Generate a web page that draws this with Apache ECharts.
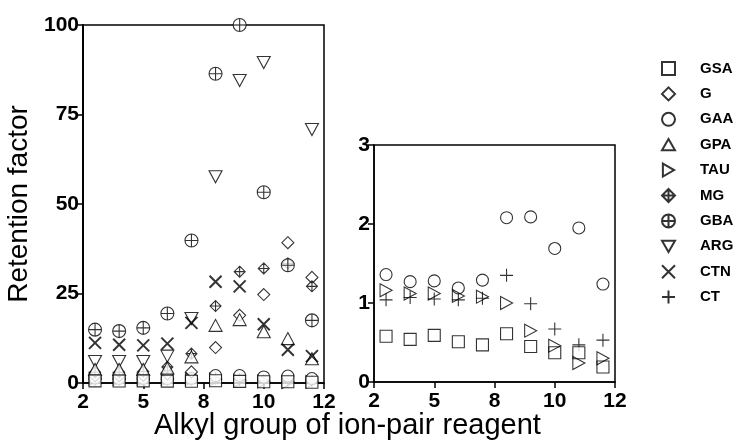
<!DOCTYPE html>
<html>
<head>
<meta charset="utf-8">
<script src="https://cdn.jsdelivr.net/npm/echarts@6/dist/echarts.min.js"></script>
<style>
  html, body { margin: 0; padding: 0; background: #fff; }
  #main { width: 744px; height: 444px; }
</style>
</head>
<body>
<div id="main"></div>
<script>
// x positions of the ten points on the (non-linear) alkyl axis, and its tick labels
var alkylPos = [0.5, 1.5, 2.5, 3.5, 4.5, 5.5, 6.5, 7.5, 8.5, 9.5];
var xTickPos = [0, 2.5, 5, 7.5, 10];
var xTickLabels = ['2', '5', '8', '10', '12'];

// retention factors
var GSA = [0.58, 0.54, 0.59, 0.51, 0.47, 0.61, 0.45, 0.37, 0.37, 0.19];
var G   = [2.0, 2.0, 2.2, 2.5, 3.1, 9.9, 18.9, 24.7, 39.2, 29.5];
var GAA = [1.36, 1.27, 1.28, 1.19, 1.29, 2.08, 2.09, 1.69, 1.95, 1.24];
var GPA = [3.8, 3.8, 3.8, 4.2, 7.3, 16.1, 17.7, 14.3, 12.4, 6.8];
var TAU = [1.16, 1.12, 1.12, 1.09, 1.08, 1.0, 0.65, 0.46, 0.24, 0.30];
var MG  = [3.0, 3.0, 3.2, 4.5, 8.2, 21.5, 31.1, 32.0, 33.4, 27.0];
var GBA = [14.9, 14.5, 15.4, 19.4, 39.8, 86.4, 100, 53.3, 32.9, 17.5];
var ARG = [6.0, 6.0, 6.0, 7.5, 18.0, 57.6, 84.5, 89.5, null, 70.8];
var CTN = [11.2, 10.7, 10.5, 11.0, 16.8, 28.3, 27.0, 16.4, 9.3, 7.5];
var CT  = [1.04, 1.07, 1.05, 1.04, 1.06, 1.35, 0.99, 0.67, 0.47, 0.53];

var legendNames = ['GSA', 'G', 'GAA', 'GPA', 'TAU', 'MG', 'GBA', 'ARG', 'CTN', 'CT'];

var FONT = 'Liberation Sans, Arial, sans-serif';

// marker shapes
var sym = {
    GSA: { s: 'rect', size: 12 },
    G:   { s: 'path://M10,0 L20,10 L10,20 L0,10 Z', size: 12 },
    GAA: { s: 'circle', size: 12 },
    GPA: { s: 'path://M10,0 L20,17.3 L0,17.3 Z', size: [13, 12] },
    TAU: { s: 'path://M0,0 L17.3,10 L0,20 Z', size: [12, 13] },
    MG:  { s: 'path://M10,0 L20,10 L10,20 L0,10 Z M10,0 L10,20 M0,10 L20,10', size: 11 },
    GBA: { s: 'path://M0,10 A10,10 0 1 1 20,10 A10,10 0 1 1 0,10 Z M10,0 L10,20 M0,10 L20,10', size: 13 },
    ARG: { s: 'path://M0,0 L20,0 L10,17.3 Z', size: [13, 12] },
    CTN: { s: 'path://M0,0 L20,20 M20,0 L0,20', size: 12, w: 2 },
    CT:  { s: 'path://M10,0 L10,20 M0,10 L20,10', size: 13 }
};

var values = { GSA: GSA, G: G, GAA: GAA, GPA: GPA, TAU: TAU, MG: MG, GBA: GBA, ARG: ARG, CTN: CTN, CT: CT };

function pairs(arr) {
    return alkylPos.map(function (x, i) { return [x, arr[i]]; });
}

function makeSeries(name, gridIdx) {
    var m = sym[name];
    return {
        name: name,
        type: 'scatter',
        xAxisIndex: gridIdx,
        yAxisIndex: gridIdx,
        clip: false,
        symbol: m.s,
        symbolSize: m.size,
        itemStyle: {
            color: name === 'TAU' ? 'rgba(255,255,255,0)' : '#fff',
            borderColor: '#000',
            borderWidth: m.w || 1.1
        },
        emphasis: { disabled: true },
        data: pairs(values[name])
    };
}

// drawing order (later drawn on top)
var leftOrder = ['TAU', 'CT', 'GAA', 'G', 'MG', 'ARG', 'GPA', 'CTN', 'GBA', 'GSA'];
var rightOrder = ['GAA', 'CT', 'GSA', 'TAU'];

var series = [];
leftOrder.forEach(function (n) { series.push(makeSeries(n, 0)); });
rightOrder.forEach(function (n) { series.push(makeSeries(n, 1)); });

function xAxisFor(gridIdx) {
    return {
        type: 'value', gridIndex: gridIdx,
        min: 0, max: 10, interval: 2.5,
        axisLine: { show: true, onZero: false, lineStyle: { color: '#000', width: 1.5 } },
        axisTick: { show: true, length: 6, lineStyle: { color: '#000', width: 1.5 } },
        splitLine: { show: false },
        axisLabel: {
            color: '#000', fontFamily: FONT, fontWeight: 'bold', fontSize: 21, margin: 9,
            formatter: function (v) {
                var i = xTickPos.indexOf(v);
                return i >= 0 ? xTickLabels[i] : '';
            }
        }
    };
}

var chart = echarts.init(document.getElementById('main'));
chart.setOption({
    backgroundColor: '#fff',
    animation: false,
    title: {
        text: 'Alkyl group of ion-pair reagent',
        left: 149, top: 406,
        textStyle: { fontFamily: FONT, fontWeight: 'normal', fontSize: 29, color: '#000' }
    },
    legend: {
        orient: 'vertical',
        left: 656, top: 56,
        data: legendNames,
        itemWidth: 13, itemHeight: 13, itemGap: 10.4,
        selectedMode: false,
        textStyle: { fontFamily: FONT, fontWeight: 'bold', fontSize: 15, color: '#000', padding: [0, 0, 0, 20], lineHeight: 13 }
    },
    grid: [
        { left: 83, top: 25, width: 241, height: 358, show: true, borderColor: '#000', borderWidth: 1.5, backgroundColor: 'transparent' },
        { left: 374, top: 145, width: 241, height: 237, show: true, borderColor: '#000', borderWidth: 1.5, backgroundColor: 'transparent' }
    ],
    xAxis: [xAxisFor(0), xAxisFor(1)],
    yAxis: [
        {
            type: 'value', gridIndex: 0, min: 0, max: 100, interval: 25,
            name: 'Retention factor', nameLocation: 'middle', nameGap: 50,
            nameTextStyle: { fontFamily: FONT, fontSize: 28, color: '#000' },
            axisLine: { show: true, lineStyle: { color: '#000', width: 2 } },
            axisTick: { show: true, length: 6, lineStyle: { color: '#000', width: 1.5 } },
            splitLine: { show: false },
            axisLabel: { color: '#000', fontFamily: FONT, fontWeight: 'bold', fontSize: 21, margin: 4 }
        },
        {
            type: 'value', gridIndex: 1, min: 0, max: 3, interval: 1,
            axisLine: { show: true, lineStyle: { color: '#000', width: 1.5 } },
            axisTick: { show: true, length: 6, lineStyle: { color: '#000', width: 1.5 } },
            splitLine: { show: false },
            axisLabel: { color: '#000', fontFamily: FONT, fontWeight: 'bold', fontSize: 21, margin: 4 }
        }
    ],
    series: series
});
</script>
</body>
</html>
